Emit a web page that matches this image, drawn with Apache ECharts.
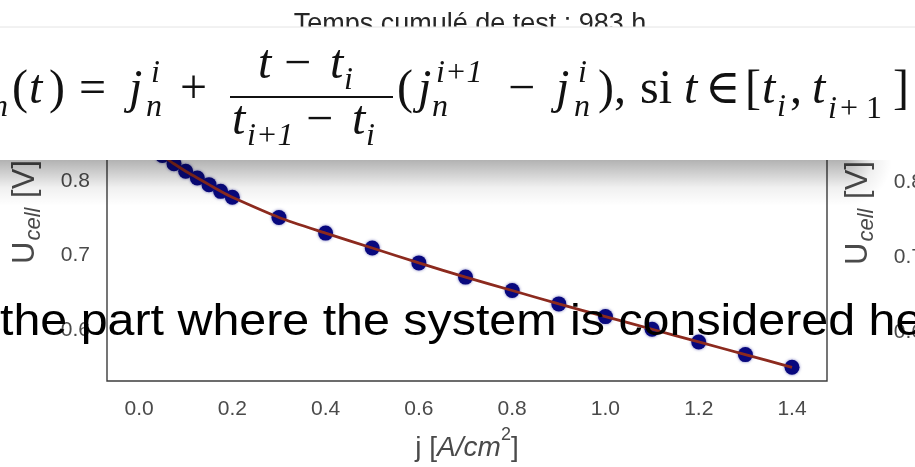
<!DOCTYPE html>
<html>
<head>
<meta charset="utf-8">
<script src="https://cdn.jsdelivr.net/npm/echarts@6/dist/echarts.min.js"></script>
<style>
  html, body { margin: 0; padding: 0; background: #fff; }
  #chart { width: 915px; height: 467px; }
</style>
</head>
<body>
<div id="chart"></div>
<script>
// Polarization curve: current density [A/cm²] vs cell voltage [V]
const currentDensity = [0.0, 0.025, 0.05, 0.075, 0.1, 0.125, 0.15, 0.175, 0.2,
                        0.3, 0.4, 0.5, 0.6, 0.7, 0.8, 0.9, 1.0, 1.1, 1.2, 1.3, 1.4];
const cellVoltage = [0.964, 0.852, 0.834, 0.823, 0.813, 0.804, 0.795, 0.786, 0.778,
                     0.751, 0.730, 0.710, 0.690, 0.671, 0.653, 0.635, 0.618, 0.601, 0.584, 0.567, 0.550];
const xTickValues = [0.0, 0.2, 0.4, 0.6, 0.8, 1.0, 1.2, 1.4];
const yTickValues = [0.6, 0.7, 0.8, 0.9];
const titleText = 'Temps cumulé de test : 983 h';
const captionText = 'the part where the system is considered he';

const points = currentDensity.map((j, i) => [j, cellVoltage[i]]);

const sans = "'Liberation Sans', Arial, sans-serif";
const serif = "'Liberation Serif', 'DejaVu Serif', serif";
const tickColor = '#4a4a4a';

// text placed by its baseline
function tx(text, x, base, size, italic) {
  return {
    type: 'text', z: 120, x: x, y: base - 0.34 * size, silent: true,
    style: {
      text: text, fontFamily: serif, fontSize: size,
      fontStyle: italic ? 'italic' : 'normal', fill: '#111',
      align: 'left', verticalAlign: 'middle',
      textAlign: 'left', textVerticalAlign: 'middle'
    }
  };
}

const M = 48, S = 32;          // main / script sizes
const B = 107, SUP = 84, SUB = 118;
const NB = 82, DB = 138;

const formula = [
  tx('n', -8, SUB, S, true),
  tx('(', 12, B, M, false),
  tx('t', 29, B, M, true),
  tx(')', 49, B, M, false),
  tx('=', 79, B, M, false),
  tx('j', 129, B, M, true),
  tx('i', 151, SUP, S, true),
  tx('n', 146, SUB, S, true),
  tx('+', 180, B, M, false),
  // fraction
  tx('t', 258, NB, M, true),
  tx('\u2212', 284, NB, M, false),
  tx('t', 330, NB, M, true),
  tx('i', 344, NB + 9, S, true),
  tx('t', 232, DB, M, true),
  tx('i+1', 247, DB + 9, S, true),
  tx('\u2212', 306, DB, M, false),
  tx('t', 352, DB, M, true),
  tx('i', 366, DB + 9, S, true),
  {
    type: 'line', z: 120, silent: true,
    shape: { x1: 230, y1: 97, x2: 393, y2: 97 },
    style: { stroke: '#111', lineWidth: 2 }
  },
  tx('(', 397, B, M, false),
  tx('j', 418, B, M, true),
  tx('i+1', 436, SUP, S, true),
  tx('n', 432, SUB, S, true),
  tx('\u2212', 508, B, M, false),
  tx('j', 556, B, M, true),
  tx('i', 578, SUP, S, true),
  tx('n', 574, SUB, S, true),
  tx(')', 598, B, M, false),
  tx(',', 614, B, M, false),
  tx('si', 640, B, M, false),
  tx('t', 684, B, M, true),
  tx('\u2208', 705, B, M, false),
  tx('[', 745, B, M, false),
  tx('t', 762, B, M, true),
  tx('i', 777, SUB, S, true),
  tx(',', 790, B, M, false),
  tx('t', 812, B, M, true),
  tx('i', 828, SUB + 2, S, true),
  tx('+', 840, SUB + 2, S, false),
  tx('1', 866, SUB + 2, S, false),
  tx(']', 893, B, M, false)
];

const shadowStops = [
  { offset: 0, color: 'rgba(0,0,0,0.30)' },
  { offset: 0.3, color: 'rgba(0,0,0,0.18)' },
  { offset: 0.6, color: 'rgba(0,0,0,0.06)' },
  { offset: 1, color: 'rgba(0,0,0,0)' }
];

const overlay = [
  // drop shadow under the formula panel
  {
    type: 'rect', z: 100, silent: true,
    shape: { x: 0, y: 160, width: 846, height: 46 },
    style: { fill: { type: 'linear', x: 0, y: 0, x2: 0, y2: 1, colorStops: shadowStops } }
  },
  {
    type: 'rect', z: 100, silent: true,
    shape: { x: 846, y: 160, width: 46, height: 46 },
    style: { fill: { type: 'radial', x: 846, y: 160, r: 46, global: true, colorStops: shadowStops } }
  },
  // formula panel
  {
    type: 'rect', z: 110, silent: true,
    shape: { x: 0, y: 27, width: 915, height: 133 },
    style: { fill: '#ffffff' }
  },
  {
    type: 'line', z: 111, silent: true,
    shape: { x1: 0, y1: 27, x2: 915, y2: 27 },
    style: { stroke: '#e4e4e4', lineWidth: 1 }
  }
].concat(formula).concat([
  {
    type: 'text', z: 130, x: 0, y: 338 - 0.35 * 45, scaleX: 1.075, silent: true,
    style: {
      text: captionText, fontFamily: sans, fontSize: 45, fill: '#000',
      align: 'left', verticalAlign: 'middle', textAlign: 'left', textVerticalAlign: 'middle'
    }
  }
]);

const yName = '{u|U}{s|cell}{u| [V]}';
const yNameStyle = {
  color: tickColor, fontFamily: sans,
  rich: {
    u: { fontSize: 31, fontFamily: sans, color: tickColor, lineHeight: 40, verticalAlign: 'middle' },
    s: { fontSize: 22, fontFamily: sans, fontStyle: 'italic', color: tickColor, lineHeight: 40,
         verticalAlign: 'bottom', padding: [0, 1, 0, 1] }
  }
};

const xMin = -0.0687, xMax = 1.475;
const yMin = 0.5316, yMax = 0.985;

const option = {
  animation: false,
  backgroundColor: '#ffffff',
  title: {
    text: titleText, left: 465, top: 6, textAlign: 'center',
    textStyle: { fontFamily: sans, fontSize: 27, fontWeight: 'normal', color: '#262626' }
  },
  grid: [
    { left: 107, right: 88, top: 43, bottom: 84, show: true, borderColor: '#3c3c3c', borderWidth: 1.4, backgroundColor: 'transparent' },
    { left: 940, width: 600, top: 43, bottom: 84, show: false }
  ],
  xAxis: [
    {
      type: 'value', gridIndex: 0, min: xMin, max: xMax,
      name: '{n|j [}{i|A/cm}{p|2}{n|]}', nameLocation: 'middle', nameGap: 45,
      nameTextStyle: {
        rich: {
          n: { fontSize: 28, fontFamily: sans, color: tickColor, lineHeight: 36, verticalAlign: 'bottom' },
          i: { fontSize: 28, fontFamily: sans, fontStyle: 'italic', color: tickColor, lineHeight: 36, verticalAlign: 'bottom' },
          p: { fontSize: 18, fontFamily: sans, color: tickColor, lineHeight: 36, verticalAlign: 'top' }
        }
      },
      axisLine: { show: false }, axisTick: { show: false }, splitLine: { show: false },
      axisLabel: {
        customValues: xTickValues, margin: 18,
        formatter: v => v.toFixed(1),
        fontFamily: sans, fontSize: 21, color: tickColor
      }
    },
    {
      type: 'value', gridIndex: 1, min: xMin, max: xMax, show: false
    }
  ],
  yAxis: [
    {
      type: 'value', gridIndex: 0, min: yMin, max: yMax,
      name: yName, nameLocation: 'middle', nameGap: 62, nameRotate: 90, nameTextStyle: yNameStyle,
      axisLine: { show: false }, axisTick: { show: false }, splitLine: { show: false },
      axisLabel: {
        customValues: yTickValues, margin: 17,
        formatter: v => v.toFixed(1),
        fontFamily: sans, fontSize: 21, color: tickColor
      }
    },
    {
      type: 'value', gridIndex: 1, min: yMin, max: yMax,
      name: yName, nameLocation: 'middle', nameGap: 62, nameRotate: 90, nameTextStyle: yNameStyle,
      axisLine: { show: false }, axisTick: { show: false }, splitLine: { show: false },
      axisLabel: {
        customValues: yTickValues, margin: 17,
        formatter: v => v.toFixed(1),
        fontFamily: sans, fontSize: 21, color: tickColor
      }
    }
  ],
  series: [
    {
      type: 'scatter', xAxisIndex: 0, yAxisIndex: 0, data: points,
      symbol: 'circle', symbolSize: 15, z: 2,
      itemStyle: { color: '#08087e', opacity: 1, shadowBlur: 3, shadowColor: 'rgba(20,20,140,0.6)' }
    },
    {
      type: 'line', xAxisIndex: 0, yAxisIndex: 0, data: points,
      showSymbol: false, smooth: 0.25, z: 3,
      lineStyle: { color: '#8c2a1e', width: 2.8 }
    }
  ],
  graphic: { elements: overlay }
};

const chart = echarts.init(document.getElementById('chart'), null, { renderer: 'canvas' });
chart.setOption(option);
</script>
</body>
</html>
